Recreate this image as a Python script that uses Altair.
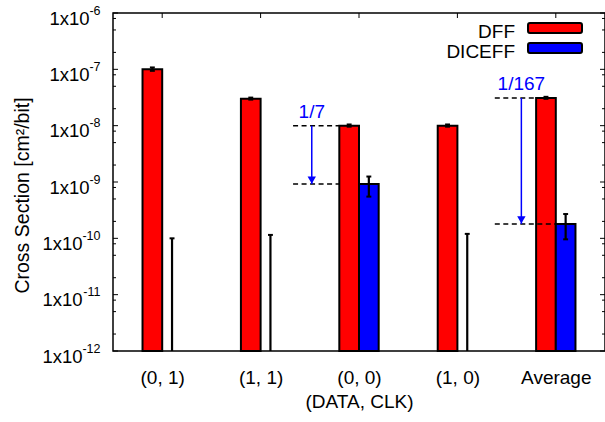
import json
import altair as alt
import pandas as pd

# ---- data ----
cats = ["(0, 1)", "(1, 1)", "(0, 0)", "(1, 0)", "Average"]
series_names = ["DFF", "DICEFF"]
series_colors = ["#ff0000", "#0000ff"]

dff = [1.0e-7, 3.0e-8, 1.0e-8, 1.0e-8, 3.1e-8]
dff_lo = [0.94e-7, 2.9e-8, 0.96e-8, 0.96e-8, 3.0e-8]
dff_hi = [1.08e-7, 3.15e-8, 1.05e-8, 1.05e-8, 3.25e-8]

diceff = [0.0, 0.0, 9.2e-10, 0.0, 1.8e-10]
diceff_lo = [1e-12, 1e-12, 5.5e-10, 1e-12, 9.6e-11]
diceff_hi = [1.0e-10, 1.15e-10, 1.25e-9, 1.2e-10, 2.7e-10]

decades = [1e-12, 1e-11, 1e-10, 1e-9, 1e-8, 1e-7, 1e-6]
y_label_base = "1x10"
y_label_exp = ["-12", "-11", "-10", "-9", "-8", "-7", "-6"]
minor_mult = [2, 5, 8]
minor = [m * d for d in decades[:-1] for m in minor_mult]

ann_label = ["1/7", "1/167"]
ann_x0 = [1.33, 3.38]
ann_xa = [1.52, 3.65]
ann_top = [1.0e-8, 3.1e-8]
ann_bottom = [9.2e-10, 1.8e-10]
ann_top_end = [1.8, 3.8]
ann_bot_end = [1.8, 4.0]

# ---- tables ----
rows = []
for i, c in enumerate(cats):
    rows.append(dict(cat=c, idx=i, series="DFF", value=dff[i], lo=dff_lo[i], hi=dff_hi[i]))
    rows.append(dict(cat=c, idx=i, series="DICEFF", value=diceff[i], lo=diceff_lo[i], hi=diceff_hi[i]))
df = pd.DataFrame(rows)
ann = pd.DataFrame(dict(label=ann_label, x0=ann_x0, xa=ann_xa, top=ann_top,
                        bottom=ann_bottom, top_end=ann_top_end, bot_end=ann_bot_end))
ylab = pd.DataFrame(dict(v=decades, exp=y_label_exp))

W, H = 492, 338
FONT = "Liberation Sans"
FS = 19

xs = alt.Scale(domain=[-0.5, 4.5], nice=False, zero=False)
ys = alt.Scale(type="log", domain=[1e-12, 1e-6], nice=False)

x_label_expr = "%s[round(datum.value)]" % json.dumps(cats)

x_axis = alt.Axis(values=[0, 1, 2, 3, 4], labelExpr=x_label_expr, title="(DATA, CLK)",
                  ticks=False, tickSize=0, domain=False, grid=False, labelFontSize=FS,
                  titleFontSize=FS, titleFontWeight="normal", labelBaseline="alphabetic",
                  labelPadding=32, titleY=56, titleBaseline="alphabetic", labelFlush=False,
                  labelColor="black", titleColor="black", labelFont=FONT, titleFont=FONT)
y_axis = alt.Axis(values=decades, labels=False, title="Cross Section [cm\u00b2/bit]",
                  ticks=False, tickSize=0, domain=False, grid=False,
                  titleFontSize=19.5, titleFontWeight="normal",
                  titleAngle=270, titleX=-91, titleY=182, titleAlign="center", titleBaseline="middle",
                  titleColor="black", titleFont=FONT)


def X(f):
    return alt.X(f, scale=xs, axis=x_axis)


def Y(f):
    return alt.Y(f, scale=ys, axis=y_axis)


base = alt.Chart(df).transform_calculate(
    c="datum.idx + (datum.series == 'DFF' ? -0.1 : 0.1)"
).transform_calculate(
    x0="datum.c - 0.1", x1="datum.c + 0.1", cl="datum.c - 0.025", cr="datum.c + 0.025"
)

bars = base.transform_filter("datum.value > 0").mark_bar(stroke="black", strokeWidth=2).encode(
    x=X("x0:Q"),
    x2="x1:Q",
    y=Y("value:Q"),
    y2=alt.datum(1e-12),
    color=alt.Color("series:N", scale=alt.Scale(domain=series_names, range=series_colors), legend=None),
)

err = base.mark_rule(color="black", strokeWidth=2.2).encode(
    x=X("c:Q"), y=Y("lo:Q"), y2="hi:Q")
cap_hi = base.mark_rule(color="black", strokeWidth=2).encode(
    x=X("cl:Q"), x2="cr:Q", y=Y("hi:Q"))
cap_lo = base.transform_filter("datum.lo > 1e-12").mark_rule(color="black", strokeWidth=2).encode(
    x=X("cl:Q"), x2="cr:Q", y=Y("lo:Q"))

# y tick labels: "1x10" with a superscript exponent
lab_base_1 = alt.Chart(ylab).transform_filter("length(datum.exp) == 2").mark_text(
    align="right", baseline="alphabetic", fontSize=18.5, font=FONT, color="black", dy=11.5).encode(
    y=Y("v:Q"), x=alt.value(-23.5), text=alt.value(y_label_base))
lab_base_2 = alt.Chart(ylab).transform_filter("length(datum.exp) == 3").mark_text(
    align="right", baseline="alphabetic", fontSize=18.5, font=FONT, color="black", dy=11.5).encode(
    y=Y("v:Q"), x=alt.value(-30.5), text=alt.value(y_label_base))
lab_exp = alt.Chart(ylab).mark_text(
    align="right", baseline="alphabetic", fontSize=12.5, font=FONT, color="black", dy=1.5).encode(
    y=Y("v:Q"), x=alt.value(-12.5), text="exp:N")

# inward ticks
dec_df = pd.DataFrame(dict(v=decades))
min_df = pd.DataFrame(dict(v=minor))
cat_df = pd.DataFrame(dict(i=list(range(len(cats)))))


def ytick(d, x0, x1):
    return alt.Chart(d).mark_rule(color="black", strokeWidth=1).encode(
        y=Y("v:Q"), x=alt.value(x0), x2=alt.value(x1))


ticks = [
    ytick(dec_df, 0, 5), ytick(dec_df, W - 5, W),
    ytick(min_df, 0, 3), ytick(min_df, W - 3, W),
    alt.Chart(cat_df).mark_rule(color="black", strokeWidth=1).encode(
        x=X("i:Q"), y=alt.value(0), y2=alt.value(5)),
]

# annotations
dash_top = alt.Chart(ann).mark_rule(color="black", strokeWidth=1.5, strokeDash=[5, 3.5]).encode(
    x=X("x0:Q"), x2="top_end:Q", y=Y("top:Q"))
dash_bot = alt.Chart(ann).mark_rule(color="black", strokeWidth=1.5, strokeDash=[5, 3.5]).encode(
    x=X("x0:Q"), x2="bot_end:Q", y=Y("bottom:Q"))
shaft = alt.Chart(ann).mark_rule(color="#0000ff", strokeWidth=1.5).encode(
    x=X("xa:Q"), y=Y("top:Q"), y2="bottom:Q")
head = alt.Chart(ann).mark_point(shape="triangle-down", filled=True, color="#0000ff", size=70,
                                 opacity=1, yOffset=-4).encode(
    x=X("xa:Q"), y=Y("bottom:Q"))
ann_text = alt.Chart(ann).mark_text(color="#0000ff", fontSize=FS, font=FONT, align="center",
                                    baseline="alphabetic", dy=-8).encode(
    x=X("xa:Q"), y=Y("top:Q"), text="label:N")

# legend (drawn manually: label left of the box)
legend_layers = []
for k, (name, col) in enumerate(zip(series_names, series_colors)):
    ld = pd.DataFrame(dict(s=[name]))
    legend_layers.append(alt.Chart(ld).mark_rect(fill=col, stroke="black", strokeWidth=2, cornerRadius=2).encode(
        x=alt.value(415), x2=alt.value(469), y=alt.value(10 + 20 * k), y2=alt.value(20 + 20 * k)))
    legend_layers.append(alt.Chart(ld).mark_text(fontSize=FS, font=FONT, align="right",
                                                 baseline="alphabetic", color="black").encode(
        text="s:N", x=alt.value(402), y=alt.value(25 + 20 * k)))

chart = alt.layer(
    bars, err, cap_hi, cap_lo, dash_top, dash_bot, shaft, head, ann_text,
    lab_base_1, lab_base_2, lab_exp, *ticks, *legend_layers
).properties(
    width=W, height=H,
    autosize=alt.AutoSizeParams(type="none"),
    padding={"left": 113, "top": 13, "right": 0, "bottom": 71},
    background="white",
).configure(font=FONT).configure_view(
    stroke="black", strokeWidth=1.5
)

chart.save("out.html", embed_options={"renderer": "svg", "actions": False})
